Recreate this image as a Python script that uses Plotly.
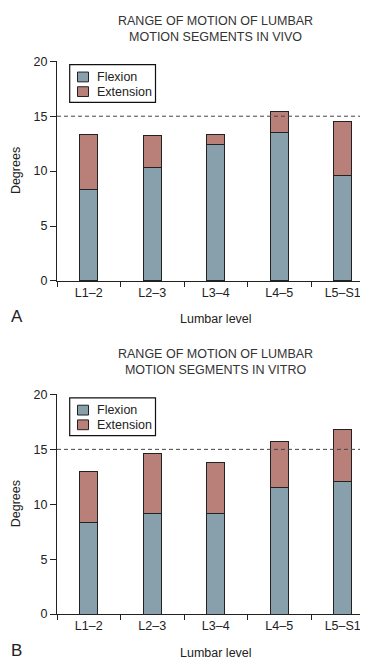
import plotly.graph_objects as go

# ---- data ----
levels = ["L1–2", "L2–3", "L3–4", "L4–5", "L5–S1"]
vivo_flexion = [8.3, 10.3, 12.4, 13.5, 9.6]
vivo_extension = [5.0, 2.9, 0.9, 1.9, 4.9]
vitro_flexion = [8.3, 9.2, 9.2, 11.5, 12.1]
vitro_extension = [4.7, 5.4, 4.6, 4.2, 4.75]
series_names = ["Flexion", "Extension"]
panel_titles = ["RANGE OF MOTION OF LUMBAR<br>MOTION SEGMENTS IN VIVO",
                "RANGE OF MOTION OF LUMBAR<br>MOTION SEGMENTS IN VITRO"]
panel_letters = ["A", "B"]
y_ticks = [0, 5, 10, 15, 20]
reference_line = 15

W, H = 368, 659
FLEX = "#87a0ab"
EXT = "#b9807a"
EDGE = "#222222"
FONT = "Liberation Sans, Arial, sans-serif"
TXT = "#222222"
FS = 12.5


def px(x):
    return x / W


def py(y):
    return 1 - y / H


fig = go.Figure()

panels = [(vivo_flexion, vivo_extension), (vitro_flexion, vitro_extension)]
offsets = [0, 340.4]
x_dom = [px(49), px(366.5)]
colors = [FLEX, EXT]

for i, (flex, ext) in enumerate(panels):
    off = offsets[i]
    xa = "x" if i == 0 else "x2"
    ya = "y" if i == 0 else "y2"
    for name, vals, col in zip(series_names, (flex, ext), colors):
        fig.add_trace(go.Bar(x=levels, y=vals, name=name, xaxis=xa, yaxis=ya,
                             marker=dict(color=col, line=dict(color=EDGE, width=1)),
                             width=0.28, showlegend=False))

    y_top, y_bot = 47.3 + off, 271.7 + off
    axis_common = dict(showgrid=False, zeroline=False, showline=True,
                       linecolor=EDGE, linewidth=1, ticks="outside",
                       tickcolor=EDGE, tickfont=dict(family=FONT, size=FS, color=TXT))
    xkey = "xaxis" if i == 0 else "xaxis2"
    ykey = "yaxis" if i == 0 else "yaxis2"
    fig.update_layout(**{
        xkey: dict(domain=x_dom, anchor=ya, type="category", tickson="boundaries",
                   ticklen=5, range=[-0.5, 4.5], **axis_common),
        ykey: dict(domain=[py(y_bot), py(y_top)], anchor=xa, range=[0, 20],
                   tickvals=y_ticks, ticklen=6, **axis_common),
    })

    # dashed reference line
    fig.add_shape(type="line", xref=f"{xa} domain", yref=ya, x0=0, x1=1,
                  y0=reference_line, y1=reference_line,
                  line=dict(color="#444444", width=1, dash="4px,3px"))

    # title
    fig.add_annotation(text=panel_titles[i], xref="paper", yref="paper",
                       x=px(208), y=py(14 + off), xanchor="center", yanchor="middle",
                       showarrow=False, font=dict(family=FONT, size=FS, color="#333333"))
    # axis titles
    fig.add_annotation(text="Lumbar level", xref="paper", yref="paper",
                       x=px(208), y=py(311 + off), xanchor="center", yanchor="middle",
                       showarrow=False, font=dict(family=FONT, size=FS, color=TXT))
    fig.add_annotation(text="Degrees", xref="paper", yref="paper", textangle=-90,
                       x=px(8), y=py(159.5 + off), xanchor="center", yanchor="middle",
                       showarrow=False, font=dict(family=FONT, size=FS, color=TXT))
    # panel letter
    fig.add_annotation(text=panel_letters[i], xref="paper", yref="paper",
                       x=px(1), y=py(308.5 + off), xanchor="left", yanchor="middle",
                       showarrow=False, font=dict(family=FONT, size=17, color=TXT))

    # legend (box, swatches, labels)
    fig.add_shape(type="rect", xref="paper", yref="paper",
                  x0=px(61.7), x1=px(147.5), y0=py(89.3 + off), y1=py(50.7 + off),
                  line=dict(color="#111111", width=1.2), fillcolor="white")
    for k, (name, col) in enumerate(zip(series_names, colors)):
        cy = 63.3 + 15 * k + off
        fig.add_shape(type="rect", xref="paper", yref="paper",
                      x0=px(69.5), x1=px(80.5), y0=py(cy + 5), y1=py(cy - 5),
                      line=dict(color=EDGE, width=1), fillcolor=col)
        fig.add_annotation(text=name, xref="paper", yref="paper",
                           x=px(86.5), y=py(cy), xanchor="left", yanchor="middle",
                           showarrow=False, font=dict(family=FONT, size=FS, color=TXT))

fig.update_layout(width=W, height=H, margin=dict(l=0, r=0, t=0, b=0),
                  barmode="stack", plot_bgcolor="white", paper_bgcolor="white",
                  showlegend=False, font=dict(family=FONT, size=FS, color=TXT))

fig.write_html("out.html")
